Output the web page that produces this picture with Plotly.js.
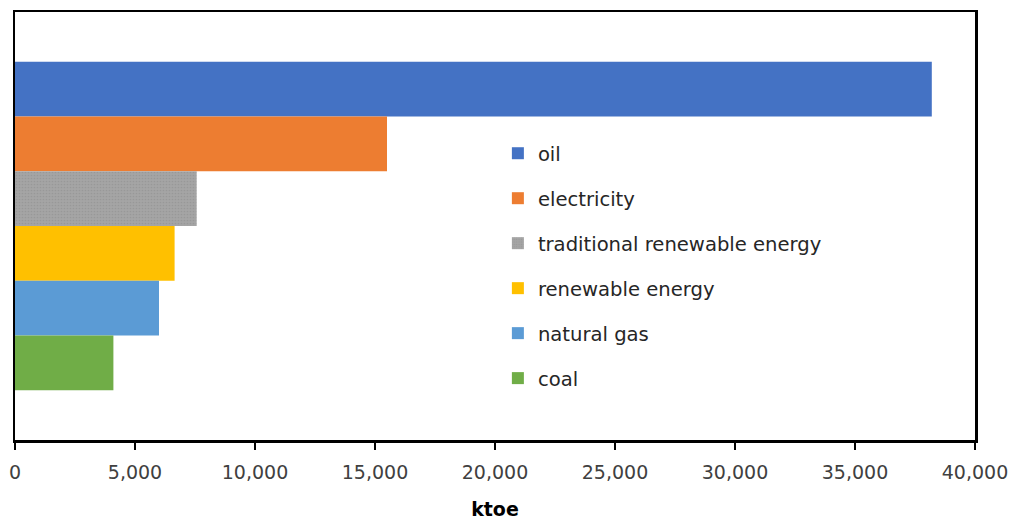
<!DOCTYPE html>
<html>
<head>
<meta charset="utf-8">
<script src="https://cdn.plot.ly/plotly-3.0.1.min.js"></script>
<style>
  html, body { margin: 0; padding: 0; background: #fff; }
  #chart { width: 1016px; height: 522px; }
</style>
</head>
<body>
<div id="chart"></div>
<script>
// Final energy consumption by source (ktoe)
const sources = ["oil", "electricity", "traditional renewable energy", "renewable energy", "natural gas", "coal"];
const consumption = [38200, 15500, 7570, 6650, 6000, 4100];
const colors = ["#4472C4", "#ED7D31", "#A5A5A5", "#FFC000", "#5B9BD5", "#70AD47"];
const category = [""];
const xTicks = [0, 5000, 10000, 15000, 20000, 25000, 30000, 35000, 40000];

const FONT = "DejaVu Sans, Liberation Sans, sans-serif";

const traces = sources.map((name, i) => {
  const marker = { color: colors[i], line: { width: 0 } };
  if (name === "traditional renewable energy") {
    // fine dotted fill on the traditional renewables bar
    marker.pattern = { shape: ".", fgcolor: "#989898", bgcolor: colors[i], size: 3, solidity: 0.25 };
  }
  return {
    type: "bar",
    orientation: "h",
    name: name,
    x: [consumption[i]],
    y: category,
    marker: marker,
    legendgroup: "g" + i,
    hoverinfo: "x+name"
  };
});

const layout = {
  width: 1016,
  height: 522,
  margin: { l: 15, r: 41, t: 12, b: 82 },
  paper_bgcolor: "#ffffff",
  plot_bgcolor: "#ffffff",
  font: { family: FONT, size: 19, color: "#404040" },
  barmode: "group",
  bargap: 0.232,
  bargroupgap: 0,
  showlegend: true,
  legend: {
    x: 0.503, xanchor: "left",
    y: 0.715, yanchor: "top",
    font: { family: FONT, size: 19.6, color: "#262626" },
    tracegroupgap: 16.5,
    bgcolor: "rgba(0,0,0,0)"
  },
  xaxis: {
    range: [0, 40000],
    tickvals: xTicks,
    tickformat: ",",
    ticks: "outside",
    ticklen: 7,
    tickwidth: 2.5,
    tickcolor: "#000",
    ticklabelstandoff: 7,
    showline: true,
    linecolor: "#000",
    linewidth: 2.5,
    mirror: true,
    showgrid: false,
    zeroline: false,
    tickfont: { family: FONT, size: 19, color: "#404040" },
    title: { text: "<b>ktoe</b>", font: { family: FONT, size: 19, color: "#000" }, standoff: 21 }
  },
  yaxis: {
    autorange: "reversed",
    showticklabels: false,
    ticks: "",
    showline: true,
    linecolor: "#000",
    linewidth: 2.5,
    mirror: true,
    showgrid: false,
    zeroline: false
  }
};

Plotly.newPlot("chart", traces, layout, { displayModeBar: false, staticPlot: true });
</script>
</body>
</html>
